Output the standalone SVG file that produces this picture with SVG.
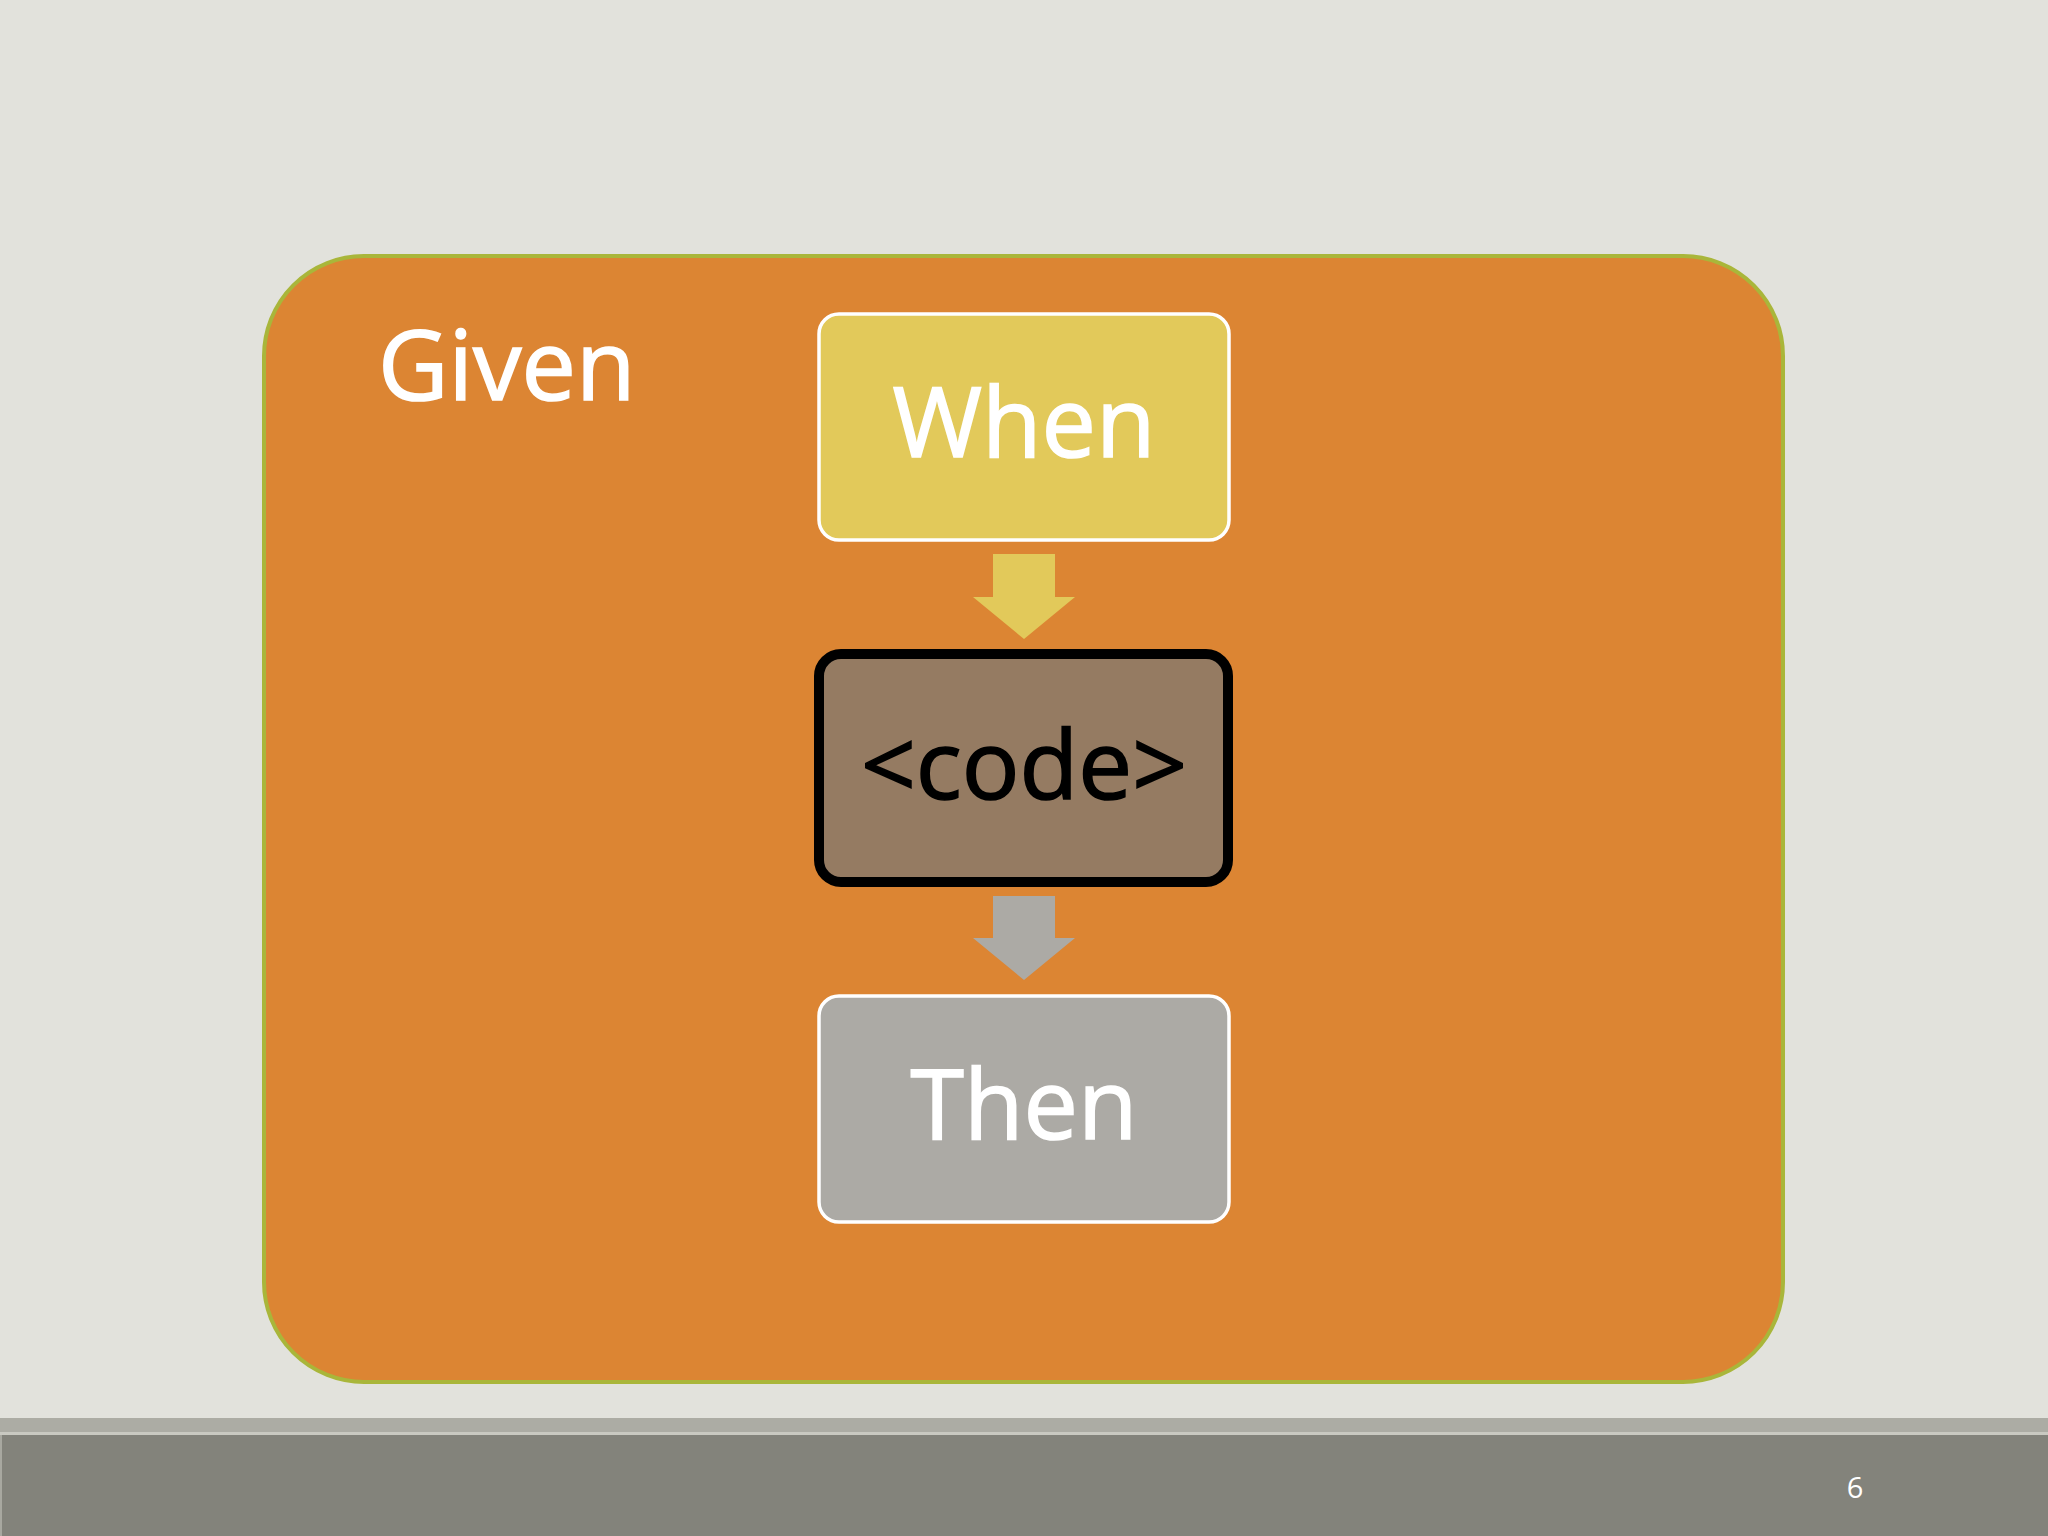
<svg xmlns="http://www.w3.org/2000/svg" width="2048" height="1536" viewBox="0 0 2048 1536">
<style>
.lbl{font-family:"Open Sans","Noto Sans","DejaVu Sans",sans-serif;text-anchor:middle}
.w{fill:#ffffff;stroke:#ffffff;stroke-width:1.6}
.k{fill:#000000;stroke:#000000;stroke-width:1.6}
.box{stroke:#ffffff;stroke-width:3.5}
</style>
<rect x="0" y="0" width="2048" height="1536" fill="#e2e2dc"/>
<g id="footer">
<rect x="0" y="1418" width="2048" height="15" fill="#acaca4"/>
<rect x="0" y="1432" width="2048" height="3" fill="#c9c9c1"/>
<rect x="0" y="1435" width="2048" height="101" fill="#83837b"/>
<rect x="0" y="1435" width="2" height="101" fill="#a8a8a0"/>
<text x="1855" y="1498" font-family="'Open Sans','Noto Sans',sans-serif" font-size="29" text-anchor="middle" fill="#ffffff">6</text>
</g>
<g id="given">
<rect x="264" y="256" width="1519" height="1126" rx="100" ry="100" fill="#dc8533" stroke="#a9b63a" stroke-width="4"/>
<text x="378" y="400" font-family="'Open Sans','Noto Sans',sans-serif" font-size="97" class="w">Given</text>
</g>
<g id="when">
<rect x="819" y="314" width="410" height="226" rx="20" ry="20" fill="#e2c95a" class="box"/>
<text x="1024" y="457" class="lbl w" font-size="97">When</text>
</g>
<g id="code">
<rect x="819" y="654" width="409" height="228" rx="22" ry="22" fill="#957b62" stroke="#000000" stroke-width="10"/>
<text x="1024" y="799" class="lbl k" font-size="96">&lt;code&gt;</text>
</g>
<g id="then">
<rect x="819" y="996" width="410" height="226" rx="20" ry="20" fill="#acaaa5" class="box"/>
<text x="1024" y="1139" class="lbl w" font-size="97">Then</text>
</g>
<g id="connectors">
<polygon points="993,554 1055,554 1055,597 1075,597 1024,639 973,597 993,597" fill="#e2c95a"/>
<polygon points="993,896 1055,896 1055,938 1075,938 1024,980 973,938 993,938" fill="#acaaa5"/>
</g>
</svg>
